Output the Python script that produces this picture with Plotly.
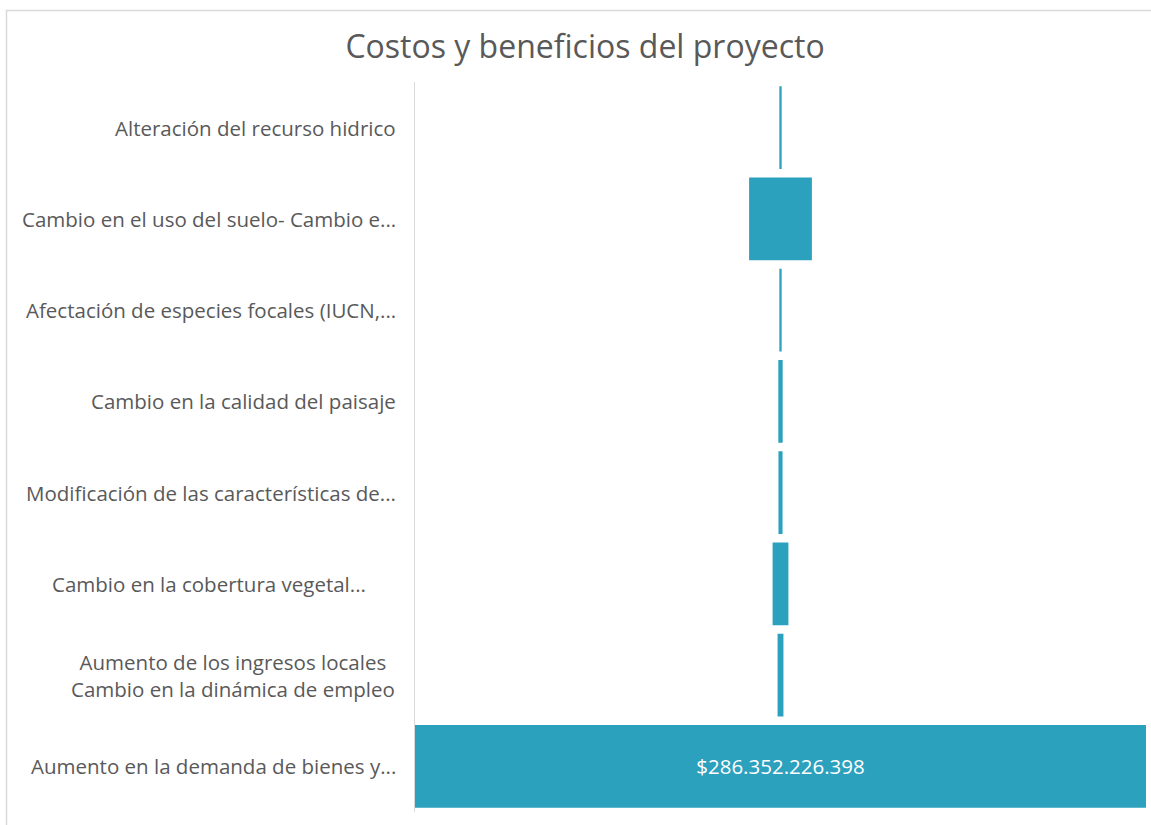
import plotly.graph_objects as go

# Project cost/benefit items, top to bottom
categories = [
    "Alteración del recurso hidrico",
    "Cambio en el uso del suelo- Cambio e...",
    "Afectación de especies focales (IUCN,...",
    "Cambio en la calidad del paisaje",
    "Modificación de las características de...",
    "Cambio en la cobertura vegetal...",
    "Aumento de los ingresos locales<br>Cambio en la dinámica de empleo",
    "Aumento en la demanda de bienes y...",
]
values = [
    900_000_000,
    24_600_000_000,
    900_000_000,
    1_700_000_000,
    1_600_000_000,
    6_200_000_000,
    2_300_000_000,
    286_352_226_398,
]
# only the largest item carries a data label
show_label = [False, False, False, False, False, False, False, True]

W, H = 1151, 825
L, R, T, B = 415, 5, 82, 13
pw, ph = W - L - R, H - T - B

BAR = "#2ca1be"
TXT = "#595959"
FONT = "Open Sans, Noto Sans, sans-serif"

fig = go.Figure(
    go.Funnel(
        y=categories,
        x=values,
        marker=dict(color=BAR),
        connector=dict(visible=False),
        texttemplate=["$%{x:,.0f}" if s else "" for s in show_label],
        textposition="inside",
        insidetextanchor="middle",
        textfont=dict(color="white", size=20.5, family=FONT),
        hoverinfo="y+x",
    )
)

vmax = max(values)
fig.update_xaxes(range=[-vmax / 2, vmax / 2], visible=False, fixedrange=True)
fig.update_yaxes(
    showticklabels=False,
    showline=True,
    linecolor="#d9d9d9",
    linewidth=1,
    showgrid=False,
    zeroline=False,
    ticks="",
)


def px_to_paper_x(px):
    return (px - L) / pw


def px_to_paper_y(py):
    return (H - B - py) / ph


# category labels drawn as annotations anchored on the category axis
label_specs = {
    5: dict(x=209, xanchor="center", align="center"),
    6: dict(x=233, xanchor="center", align="center"),
}
for i, cat in enumerate(categories):
    spec = label_specs.get(i, dict(x=398, xanchor="right", align="right"))
    fig.add_annotation(
        x=px_to_paper_x(spec["x"]),
        xref="paper",
        y=cat,
        yref="y",
        text=cat,
        showarrow=False,
        xanchor=spec["xanchor"],
        align=spec["align"],
        yanchor="middle",
        font=dict(size=20.5, color=TXT, family=FONT),
    )

# chart area frame
fig.add_shape(
    type="line", xref="paper", yref="paper",
    x0=px_to_paper_x(6), x1=px_to_paper_x(W + 20),
    y0=px_to_paper_y(10.5), y1=px_to_paper_y(10.5),
    line=dict(color="#d9d9d9", width=1.5),
)
fig.add_shape(
    type="line", xref="paper", yref="paper",
    x0=px_to_paper_x(6.5), x1=px_to_paper_x(6.5),
    y0=px_to_paper_y(10), y1=px_to_paper_y(H + 20),
    line=dict(color="#d9d9d9", width=1.5),
)

fig.update_layout(
    width=W,
    height=H,
    margin=dict(l=L, r=R, t=T, b=B),
    paper_bgcolor="white",
    plot_bgcolor="white",
    separators=",.",
    funnelgap=0.093,
    showlegend=False,
    title=dict(
        text="Costos y beneficios del proyecto",
        x=585 / W,
        xanchor="center",
        y=1 - 47 / H,
        yanchor="middle",
        font=dict(size=32, color=TXT, family=FONT),
    ),
    font=dict(family=FONT, color=TXT),
)

fig.write_html("out.html")
